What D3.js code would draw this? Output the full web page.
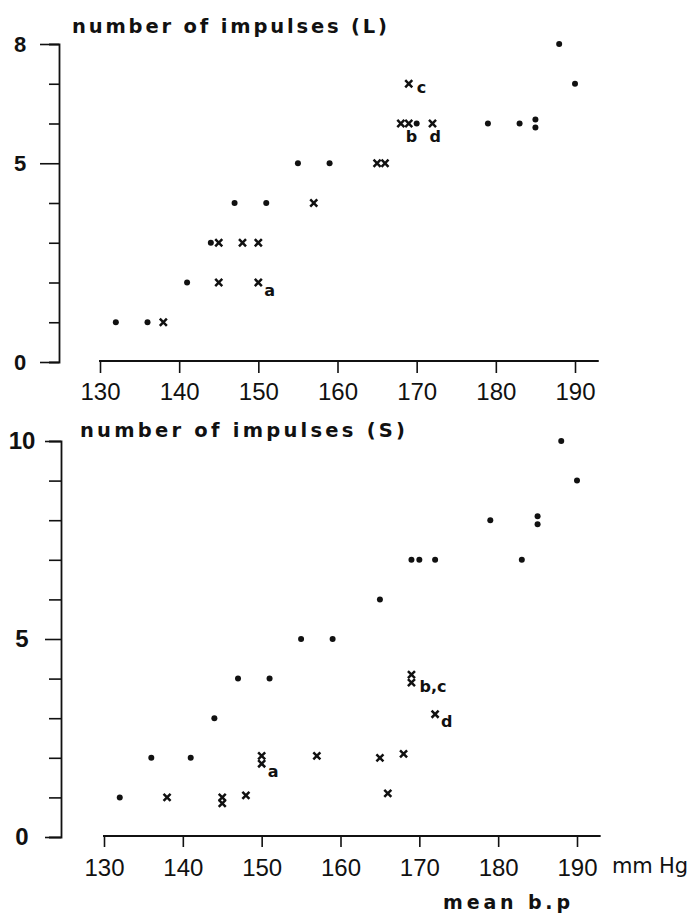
<!DOCTYPE html>
<html>
<head>
<meta charset="utf-8">
<script src="https://cdn.jsdelivr.net/npm/d3@7"></script>
<style>
  html, body { margin: 0; padding: 0; background: #fff; }
  svg { display: block; }
  text { fill: #111; }
</style>
</head>
<body>
<svg id="chart" width="689" height="914"></svg>
<script>
// ---------- data ----------
const xTicks = [130, 140, 150, 160, 170, 180, 190];

// Top panel: number of impulses (L)
const topYTicks = [0, 1, 2, 3, 4, 5, 6, 7, 8];
const topYLabels = ["0", "", "", "", "", "5", "", "", "8"];
const topDotBP = [132, 136, 141, 144, 147, 151, 155, 159, 170, 179, 183, 185, 185, 188, 190];
const topDotN  = [1, 1, 2, 3, 4, 4, 5, 5, 6, 6, 6, 6.1, 5.9, 8, 7];
const topCrossBP = [138, 145, 145, 148, 150, 150, 157, 165, 166, 168, 169, 169, 172];
const topCrossN  = [1, 2, 3, 3, 3, 2, 4, 5, 5, 6, 6, 7, 6];
const topLabelText = ["a", "b", "c", "d"];
const topLabelBP   = [150, 169, 169, 172];
const topLabelN    = [2, 6, 7, 6];
const topLabelKind = ["sub", "below", "right", "below"];

// Bottom panel: number of impulses (S)
const botYTicks = [0, 1, 2, 3, 4, 5, 6, 7, 8, 9, 10];
const botYLabels = ["0", "", "", "", "", "5", "", "", "", "", "10"];
const botDotBP = [132, 136, 141, 144, 147, 151, 155, 159, 165, 169, 170, 172, 179, 183, 185, 185, 188, 190];
const botDotN  = [1, 2, 2, 3, 4, 4, 5, 5, 6, 7, 7, 7, 8, 7, 8.1, 7.9, 10, 9];
const botCrossBP = [138, 145, 145, 148, 150, 150, 157, 165, 166, 168, 169, 169, 172];
const botCrossN  = [1, 1, 0.85, 1.05, 2.05, 1.85, 2.05, 2, 1.1, 2.1, 4.1, 3.9, 3.1];
const botLabelText = ["a", "b,c", "d"];
const botLabelBP   = [150, 169, 172];
const botLabelN    = [1.85, 3.9, 3.1];
const botLabelKind = ["sub", "right", "sub"];

// ---------- drawing ----------
const svg = d3.select("#chart");
const ink = "#111";
const labelOffsets = { sub: [6, 13], right: [8, 9], below: [-3, 18] };
const sans = "Liberation Sans, Arial, sans-serif";
const wide = "DejaVu Sans, Verdana, sans-serif";

function panel(cfg) {
  const g = svg.append("g");
  const x = d3.scaleLinear().domain([130, 190]).range(cfg.xRange);
  const y = d3.scaleLinear().domain([0, cfg.yMax]).range(cfg.yRange);

  // y axis
  const yAxis = d3.axisLeft(y)
    .tickValues(cfg.yTicks)
    .tickSize(cfg.minorTick)
    .tickPadding(0)
    .tickFormat((d, i) => cfg.yLabels[i]);
  const ya = g.append("g")
    .attr("transform", `translate(${cfg.yAxisX},0)`)
    .call(yAxis);
  ya.select(".domain").attr("stroke", ink).attr("stroke-width", 1.8);
  ya.selectAll(".tick line")
    .attr("stroke", ink).attr("stroke-width", 1.6)
    .attr("x2", (d, i) => cfg.yLabels[i] ? -cfg.majorTick : -cfg.minorTick);
  ya.selectAll(".tick text")
    .attr("x", -cfg.labelDist)
    .attr("text-anchor", "middle")
    .attr("font-family", sans)
    .attr("font-weight", "bold")
    .attr("font-size", cfg.yFont)
    .attr("fill", ink);

  // x axis
  const xAxis = d3.axisBottom(x)
    .tickValues(xTicks)
    .tickSize(cfg.xTickLen)
    .tickPadding(cfg.xTickPad)
    .tickSizeOuter(0);
  const xa = g.append("g")
    .attr("transform", `translate(0,${cfg.xAxisY})`)
    .call(xAxis);
  xa.select(".domain").remove();
  xa.append("line")
    .attr("x1", x(130) - 1).attr("x2", x(193))
    .attr("y1", 0).attr("y2", 0)
    .attr("stroke", ink).attr("stroke-width", 1.8);
  xa.selectAll(".tick line").attr("stroke", ink).attr("stroke-width", 1.6);
  xa.selectAll(".tick text")
    .attr("font-family", sans)
    .attr("font-size", 24)
    .attr("fill", ink);

  // title
  g.append("text")
    .attr("x", cfg.titleX).attr("y", cfg.titleY)
    .attr("textLength", cfg.titleLen)
    .attr("lengthAdjust", "spacing")
    .attr("font-family", wide)
    .attr("font-weight", "bold")
    .attr("font-size", 19.5)
    .text(cfg.title);

  // dots
  g.append("g").selectAll("circle")
    .data(cfg.dotBP.map((b, i) => [b, cfg.dotN[i]]))
    .join("circle")
    .attr("cx", d => x(d[0]))
    .attr("cy", d => y(d[1]))
    .attr("r", 3)
    .attr("fill", ink);

  // crosses
  const sym = d3.symbol().type(d3.symbolX).size(34);
  g.append("g").selectAll("path")
    .data(cfg.crossBP.map((b, i) => [b, cfg.crossN[i]]))
    .join("path")
    .attr("d", sym)
    .attr("transform", d => `translate(${x(d[0])},${y(d[1])})`)
    .attr("fill", "none")
    .attr("stroke", ink)
    .attr("stroke-width", 2.5);

  // letter labels
  g.append("g").selectAll("text")
    .data(cfg.labelText.map((t, i) => ({ t, b: cfg.labelBP[i], n: cfg.labelN[i], k: cfg.labelKind[i] })))
    .join("text")
    .attr("x", d => x(d.b) + labelOffsets[d.k][0])
    .attr("y", d => y(d.n) + labelOffsets[d.k][1])
    .attr("font-family", wide)
    .attr("font-weight", "bold")
    .attr("font-size", 16)
    .text(d => d.t);

  return { g, x, y };
}

panel({
  xRange: [100, 575], yRange: [362, 44], yMax: 8,
  yTicks: topYTicks, yLabels: topYLabels,
  yAxisX: 59, minorTick: 10, majorTick: 19, labelDist: 39, yFont: 22,
  xAxisY: 361, xTickLen: 12, xTickPad: 10,
  title: "number of impulses (L)", titleX: 72, titleY: 33, titleLen: 315,
  dotBP: topDotBP, dotN: topDotN, crossBP: topCrossBP, crossN: topCrossN,
  labelText: topLabelText, labelBP: topLabelBP, labelN: topLabelN, labelKind: topLabelKind
});

panel({
  xRange: [104, 577], yRange: [837, 441], yMax: 10,
  yTicks: botYTicks, yLabels: botYLabels,
  yAxisX: 61, minorTick: 12, majorTick: 16, labelDist: 39, yFont: 24,
  xAxisY: 836, xTickLen: 11, xTickPad: 12,
  title: "number  of impulses (S)", titleX: 80, titleY: 437, titleLen: 325,
  dotBP: botDotBP, dotN: botDotN, crossBP: botCrossBP, crossN: botCrossN,
  labelText: botLabelText, labelBP: botLabelBP, labelN: botLabelN, labelKind: botLabelKind
});

// unit and axis name (bottom)
svg.append("text")
  .attr("x", 612).attr("y", 873)
  .attr("textLength", 76).attr("lengthAdjust", "spacing")
  .attr("font-family", wide)
  .attr("font-size", 21)
  .text("mm Hg");
svg.append("text")
  .attr("x", 443).attr("y", 909)
  .attr("textLength", 127).attr("lengthAdjust", "spacing")
  .attr("font-family", wide)
  .attr("font-weight", "bold")
  .attr("font-size", 19)
  .text("mean b.p");
</script>
</body>
</html>
